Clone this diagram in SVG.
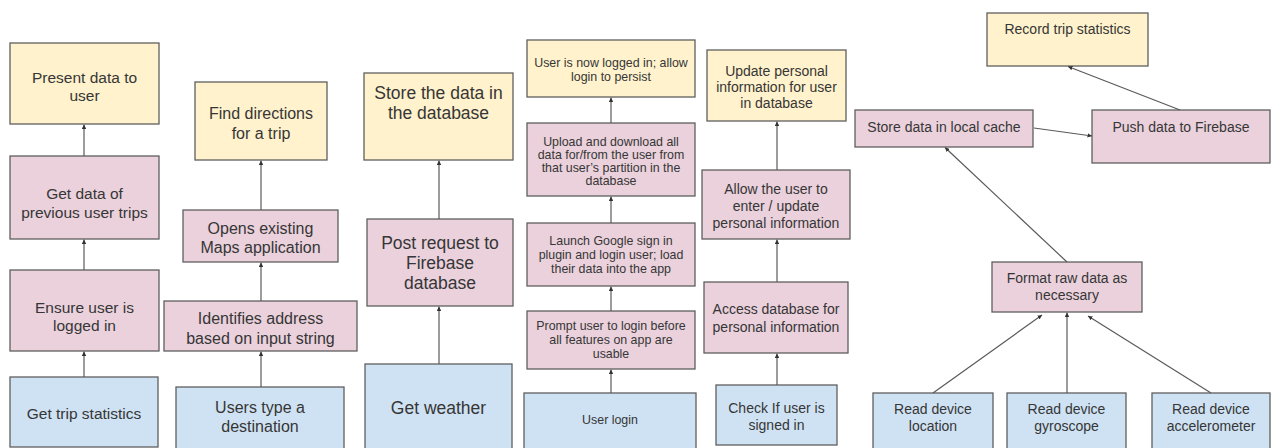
<svg xmlns="http://www.w3.org/2000/svg" width="1271" height="448" viewBox="0 0 1271 448">
  <defs>
    <style>
      .box { stroke: #5f5f5f; stroke-width: 1.3; }
      .goal { fill: #fff2cc; }
      .step { fill: #ead1dc; }
      .start { fill: #cfe2f3; }
      text { font-family: "Liberation Sans", Arial, sans-serif; fill: #363636; text-anchor: middle; }
      .f12 { font-size: 12.4px; }
      .f135 { font-size: 14px; }
      .f14 { font-size: 14px; }
      .f155 { font-size: 15.5px; }
      .f16 { font-size: 16px; }
      .f175 { font-size: 17.5px; }
      .link { stroke: #5a5a5a; stroke-width: 1.2; fill: none; marker-end: url(#tip); }
    </style>
    <marker id="tip" viewBox="0 0 6 6" refX="6" refY="3" markerWidth="4.5" markerHeight="4.5" markerUnits="userSpaceOnUse" orient="auto">
      <path d="M0,0 L6,3 L0,6 z" fill="#333"/>
    </marker>
  </defs>

  <!-- Column 1: trip statistics -->
  <g id="present-data">
    <rect class="box goal" x="10" y="43" width="149" height="81"/>
    <text class="f155" x="84.5" y="82.5">Present data to</text>
    <text class="f155" x="84.5" y="100.5">user</text>
  </g>
  <g id="get-previous-trips">
    <rect class="box step" x="10" y="156" width="149" height="83"/>
    <text class="f155" x="84.5" y="198.5">Get data of</text>
    <text class="f155" x="84.5" y="217.5">previous user trips</text>
  </g>
  <g id="ensure-logged-in">
    <rect class="box step" x="10" y="270" width="149" height="81"/>
    <text class="f155" x="84.5" y="312.5">Ensure user is</text>
    <text class="f155" x="84.5" y="330.5">logged in</text>
  </g>
  <g id="get-trip-statistics">
    <rect class="box start" x="10" y="377" width="148" height="70"/>
    <text class="f155" x="84" y="418.5">Get trip statistics</text>
  </g>

  <!-- Column 2: directions -->
  <g id="find-directions">
    <rect class="box goal" x="195" y="82" width="132" height="78"/>
    <text class="f16" x="261" y="118.6">Find directions</text>
    <text class="f16" x="261" y="138.6">for a trip</text>
  </g>
  <g id="open-maps">
    <rect class="box step" x="183" y="210" width="155" height="52"/>
    <text class="f16" x="260.5" y="233.6">Opens existing</text>
    <text class="f16" x="260.5" y="252.6">Maps application</text>
  </g>
  <g id="identify-address">
    <rect class="box step" x="164" y="301" width="193" height="50"/>
    <text class="f16" x="260.5" y="323.6">Identifies address</text>
    <text class="f16" x="260.5" y="343.6">based on input string</text>
  </g>
  <g id="type-destination">
    <rect class="box start" x="176" y="387" width="168" height="70"/>
    <text class="f16" x="260" y="412.6">Users type a</text>
    <text class="f16" x="260" y="431.6">destination</text>
  </g>

  <!-- Column 3: weather -->
  <g id="store-data">
    <rect class="box goal" x="364" y="73" width="149" height="87"/>
    <text class="f175" x="438.5" y="99">Store the data in</text>
    <text class="f175" x="438.5" y="119">the database</text>
  </g>
  <g id="post-request">
    <rect class="box step" x="367" y="219" width="146" height="87"/>
    <text class="f175" x="440" y="249">Post request to</text>
    <text class="f175" x="440" y="269">Firebase</text>
    <text class="f175" x="440" y="289">database</text>
  </g>
  <g id="get-weather">
    <rect class="box start" x="365" y="364" width="147" height="94"/>
    <text class="f175" x="438.5" y="414">Get weather</text>
  </g>

  <!-- Column 4: login -->
  <g id="login-persist">
    <rect class="box goal" x="527" y="40" width="168" height="57"/>
    <text class="f12" x="611" y="67.2">User is now logged in; allow</text>
    <text class="f12" x="611" y="81.2">login to persist</text>
  </g>
  <g id="sync-user-data">
    <rect class="box step" x="527" y="123" width="168" height="73"/>
    <text class="f12" x="611" y="146">Upload and download all</text>
    <text class="f12" x="611" y="159">data for/from the user from</text>
    <text class="f12" x="611" y="172">that user’s partition in the</text>
    <text class="f12" x="611" y="185.2">database</text>
  </g>
  <g id="google-sign-in">
    <rect class="box step" x="527" y="223" width="168" height="63"/>
    <text class="f12" x="611" y="244.7">Launch Google sign in</text>
    <text class="f12" x="611" y="258.7">plugin and login user; load</text>
    <text class="f12" x="611" y="272.7">their data into the app</text>
  </g>
  <g id="prompt-login">
    <rect class="box step" x="527" y="311" width="168" height="58"/>
    <text class="f12" x="611" y="330.2">Prompt user to login before</text>
    <text class="f12" x="611" y="344.2">all features on app are</text>
    <text class="f12" x="611" y="357.5">usable</text>
  </g>
  <g id="user-login">
    <rect class="box start" x="524" y="393" width="172" height="65"/>
    <text class="f12" x="610" y="424.2">User login</text>
  </g>

  <!-- Column 5: personal information -->
  <g id="update-personal-info">
    <rect class="box goal" x="707" y="50" width="139" height="71"/>
    <text class="f14" x="776.5" y="75.6">Update personal</text>
    <text class="f14" x="776.5" y="91.6">information for user</text>
    <text class="f14" x="776.5" y="107.6">in database</text>
  </g>
  <g id="enter-personal-info">
    <rect class="box step" x="702" y="170" width="148" height="69"/>
    <text class="f14" x="776" y="194.2">Allow the user to</text>
    <text class="f14" x="776" y="210.6">enter / update</text>
    <text class="f14" x="776" y="227.6">personal information</text>
  </g>
  <g id="access-personal-info">
    <rect class="box step" x="704" y="282" width="144" height="71"/>
    <text class="f14" x="776" y="314.2">Access database for</text>
    <text class="f14" x="776" y="331.6">personal information</text>
  </g>
  <g id="check-signed-in">
    <rect class="box start" x="716" y="385" width="121" height="60"/>
    <text class="f14" x="776.5" y="413.2">Check If user is</text>
    <text class="f14" x="776.5" y="430">signed in</text>
  </g>

  <!-- Column 6: sensor recording -->
  <g id="record-trip-statistics">
    <rect class="box goal" x="987" y="13" width="161" height="53"/>
    <text class="f135" x="1067.5" y="33.7">Record trip statistics</text>
  </g>
  <g id="store-local-cache">
    <rect class="box step" x="855" y="110" width="178" height="37"/>
    <text class="f14" x="944" y="131.9">Store data in local cache</text>
  </g>
  <g id="push-firebase">
    <rect class="box step" x="1092" y="110" width="178" height="53"/>
    <text class="f14" x="1181" y="131.9">Push data to Firebase</text>
  </g>
  <g id="format-raw-data">
    <rect class="box step" x="992" y="262" width="150" height="50"/>
    <text class="f14" x="1067" y="283.2">Format raw data as</text>
    <text class="f14" x="1067" y="300">necessary</text>
  </g>
  <g id="read-location">
    <rect class="box start" x="873" y="393" width="120" height="65"/>
    <text class="f14" x="933" y="414.2">Read device</text>
    <text class="f14" x="933" y="431">location</text>
  </g>
  <g id="read-gyroscope">
    <rect class="box start" x="1007" y="393" width="119" height="65"/>
    <text class="f14" x="1066.5" y="414.2">Read device</text>
    <text class="f14" x="1066.5" y="431">gyroscope</text>
  </g>
  <g id="read-accelerometer">
    <rect class="box start" x="1152" y="393" width="118" height="65"/>
    <text class="f14" x="1211" y="414.2">Read device</text>
    <text class="f14" x="1211" y="431">accelerometer</text>
  </g>

  <!-- Connectors -->
  <g id="connectors">
    <line class="link" x1="84" y1="156" x2="84" y2="124.5"/>
    <line class="link" x1="84" y1="270" x2="84" y2="239.5"/>
    <line class="link" x1="84" y1="377" x2="84" y2="351.5"/>

    <line class="link" x1="261" y1="210" x2="261" y2="160.5"/>
    <line class="link" x1="261" y1="301" x2="261" y2="262.5"/>
    <line class="link" x1="261" y1="387" x2="261" y2="351.5"/>

    <line class="link" x1="439" y1="219" x2="439" y2="160.5"/>
    <line class="link" x1="439" y1="364" x2="439" y2="306.5"/>

    <line class="link" x1="611" y1="123" x2="611" y2="97.5"/>
    <line class="link" x1="611" y1="223" x2="611" y2="196.5"/>
    <line class="link" x1="611" y1="311" x2="611" y2="286.5"/>
    <line class="link" x1="611" y1="393" x2="611" y2="369.5"/>

    <line class="link" x1="777" y1="170" x2="777" y2="121.5"/>
    <line class="link" x1="777" y1="282" x2="777" y2="239.5"/>
    <line class="link" x1="777" y1="385" x2="777" y2="353.5"/>

    <line class="link" x1="1034" y1="128" x2="1092" y2="136"/>
    <line class="link" x1="1180" y1="110" x2="1068" y2="66.5"/>
    <line class="link" x1="1067" y1="262" x2="945" y2="147.5"/>
    <line class="link" x1="933" y1="393" x2="1042" y2="315"/>
    <line class="link" x1="1067" y1="393" x2="1067" y2="312.5"/>
    <line class="link" x1="1211" y1="393" x2="1088" y2="316"/>
  </g>
</svg>
